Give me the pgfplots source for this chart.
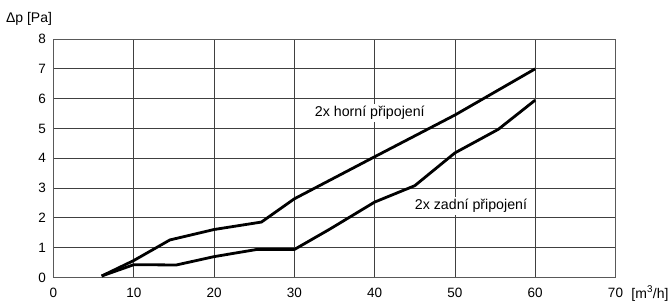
\documentclass[border=0pt]{standalone}
\usepackage{fontspec}
\setmainfont{Liberation Sans}
\usepackage{pgfplots}
\pgfplotsset{compat=1.18}
\begin{document}
\begin{tikzpicture}[x=1pt,y=1pt]
\begin{axis}[
  at={(53.5pt,22.5pt)}, anchor=south west,
  scale only axis, width=562pt, height=238.5pt,
  xmin=0, xmax=70, ymin=0, ymax=8,
  xtick={0,10,...,70}, ytick={0,1,...,8},
  grid=major,
  major grid style={draw=black!75, line width=0.8pt},
  axis line style={draw=black!65, line width=0.9pt},
  tick style={draw=none},
  /pgf/number format/assume math mode=true,
  tick label style={font=\fontsize{13.5}{15}\selectfont},
  yticklabel style={xshift=-4pt},
  xticklabel style={yshift=-7pt},
]
\addplot[black, line width=2.8pt, line join=round] coordinates {
(6,0.05) (10,0.57) (14.5,1.26) (20,1.61) (25.9,1.86) (30,2.64) (40,4.05) (50,5.45) (60,7.0)};
\addplot[black, line width=2.8pt, line join=round] coordinates {
(6,0.05) (10,0.43) (15.3,0.42) (20,0.7) (25.3,0.94) (30,0.94) (34.4,1.62) (40,2.53) (45,3.08) (50,4.18) (55.4,4.97) (60,5.95)};
\node[fill=white, inner sep=2pt, font=\fontsize{14.2}{16}\selectfont] at (axis cs:39.4,5.52) {2x horní připojení};
\node[fill=white, inner sep=2pt, font=\fontsize{14.2}{16}\selectfont] at (axis cs:52.0,2.40) {2x zadní připojení};
\end{axis}
\node[font=\fontsize{14}{16}\selectfont] at (29pt,281pt) {Δp [Pa]};
\node[font=\fontsize{14}{16}\selectfont] at (650pt,6.5pt) {[m\textsuperscript{3}/h]};
\pgfresetboundingbox
\path (0,0) rectangle (669pt,300pt);
\end{tikzpicture}
\end{document}
